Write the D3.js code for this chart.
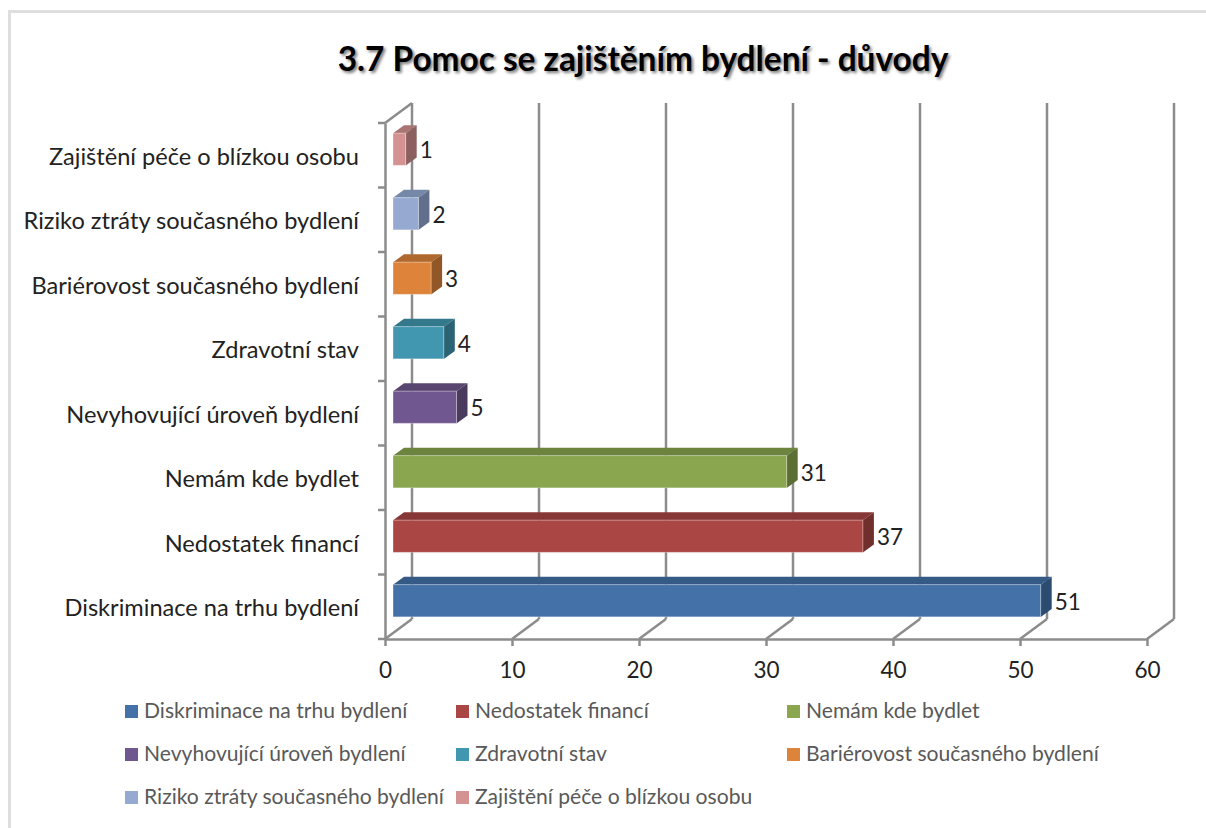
<!DOCTYPE html>
<html>
<head>
<meta charset="utf-8">
<script src="https://cdn.jsdelivr.net/npm/d3@7"></script>
<style>
  html, body { margin: 0; padding: 0; background: #fff; }
  text { font-family: Lato, "Open Sans", sans-serif; }
</style>
</head>
<body>
<svg id="chart" width="1206" height="828"></svg>
<script>
const chartTitle = "3.7 Pomoc se zajištěním bydlení - důvody";
const categories = [
  "Diskriminace na trhu bydlení",
  "Nedostatek financí",
  "Nemám kde bydlet",
  "Nevyhovující úroveň bydlení",
  "Zdravotní stav",
  "Bariérovost současného bydlení",
  "Riziko ztráty současného bydlení",
  "Zajištění péče o blízkou osobu"
];
const values = [51, 37, 31, 5, 4, 3, 2, 1];
const xTicks = [0, 10, 20, 30, 40, 50, 60];
const frontColors = ["#4472a8", "#aa4644", "#8aa64f", "#71578f", "#4097af", "#dd843a", "#95a9d1", "#d59292"];
const topColors = ["#355a85", "#873735", "#6d843e", "#5a4571", "#33788b", "#af692e", "#7688a8", "#a97474"];
const sideColors = ["#2c4b70", "#702e2c", "#5b6e34", "#4a3a5e", "#2a6374", "#925726", "#616f8c", "#8d6060"];

const svg = d3.select("#chart");

const margin = { top: 123, bottom: 189, right: 59, left: 385 };
const width = 1206, height = 828;
const depth = { x: 27, y: 20 };      // floor depth of the 3d box
const barOffset = { x: 8, y: 6 };    // bars stand a bit behind the front plane
const barDepth = { x: 11, y: 8 };

const x = d3.scaleLinear().domain([0, 60]).range([margin.left, width - margin.right]);
const y = d3.scaleBand().domain(categories).range([height - margin.bottom, margin.top]);
const bottom = height - margin.bottom;
const axisColor = "#8c8c8c";

// Outer frame, only top and left are in the picture
svg.append("path")
  .attr("d", "M1206,11.5H9.5V828")
  .attr("fill", "none")
  .attr("stroke", "#dedede")
  .attr("stroke-width", 3);

// Title, with its soft shadow
svg.append("text")
  .attr("x", 643).attr("y", 71)
  .attr("text-anchor", "middle")
  .attr("font-size", 33.4).attr("font-weight", 700)
  .attr("fill", "#777")
  .attr("transform", "translate(2,2)")
  .style("filter", "blur(1.5px)")
  .text(chartTitle);
svg.append("text")
  .attr("x", 643).attr("y", 71)
  .attr("text-anchor", "middle")
  .attr("font-size", 33.4).attr("font-weight", 700)
  .attr("fill", "#000")
  .text(chartTitle);

// Back wall grid lines and floor lines
const grid = svg.append("g").attr("stroke", axisColor).attr("stroke-width", 2.5).attr("fill", "none");
grid.selectAll(".wall")
  .data(xTicks)
  .join("line")
  .attr("class", "wall")
  .attr("x1", d => x(d) + depth.x).attr("x2", d => x(d) + depth.x)
  .attr("y1", margin.top - depth.y).attr("y2", bottom - depth.y);
grid.selectAll(".floor")
  .data(xTicks)
  .join("line")
  .attr("class", "floor")
  .attr("x1", d => x(d)).attr("x2", d => x(d) + depth.x)
  .attr("y1", bottom).attr("y2", bottom - depth.y);
grid.append("line")
  .attr("x1", x(0)).attr("x2", x(0) + depth.x)
  .attr("y1", margin.top).attr("y2", margin.top - depth.y);

// Axes on the front plane
const xAxis = svg.append("g")
  .attr("transform", `translate(0, ${bottom})`)
  .call(d3.axisBottom(x).tickValues(xTicks).tickSize(7).tickPadding(16).tickSizeOuter(0));
xAxis.select(".domain").attr("stroke", axisColor).attr("stroke-width", 2.5);
xAxis.selectAll("line").attr("stroke", axisColor).attr("stroke-width", 2.5);
xAxis.selectAll("text").attr("font-size", 22.5).attr("fill", "#222");

const yAxis = svg.append("g")
  .attr("transform", `translate(${margin.left}, 0)`)
  .call(d3.axisLeft(y).tickSize(0).tickPadding(26));
yAxis.select(".domain").attr("stroke", axisColor).attr("stroke-width", 2.5);
yAxis.selectAll("text").attr("font-size", 23.6).attr("fill", "#222").attr("dy", "0.4em");

// Category tick marks sit between the bands
svg.selectAll(".ytick")
  .data(d3.range(categories.length + 1))
  .join("line")
  .attr("class", "ytick")
  .attr("x1", x(0) - 7).attr("x2", x(0))
  .attr("y1", i => bottom - i * y.step()).attr("y2", i => bottom - i * y.step())
  .attr("stroke", axisColor).attr("stroke-width", 2.5);

// 3d bars
const bars = svg.selectAll(".bar")
  .data(categories)
  .join("g")
  .attr("class", "bar");

const barH = y.step() / 2;
const barTop = d => y(d) + (y.step() - barH) / 2 - barOffset.y;
const barX0 = x(0) + barOffset.x;
const barX1 = (d, i) => x(values[i]) + barOffset.x;

bars.append("path")
  .attr("fill", (d, i) => topColors[i])
  .attr("d", (d, i) => {
    const t = barTop(d), r = barX1(d, i);
    return `M${barX0},${t}L${barX0 + barDepth.x},${t - barDepth.y}L${r + barDepth.x},${t - barDepth.y}L${r},${t}Z`;
  });
bars.append("path")
  .attr("fill", (d, i) => sideColors[i])
  .attr("d", (d, i) => {
    const t = barTop(d), r = barX1(d, i);
    return `M${r},${t}L${r + barDepth.x},${t - barDepth.y}L${r + barDepth.x},${t - barDepth.y + barH}L${r},${t + barH}Z`;
  });
bars.append("rect")
  .attr("x", barX0)
  .attr("y", d => barTop(d))
  .attr("width", (d, i) => barX1(d, i) - barX0)
  .attr("height", barH)
  .attr("fill", (d, i) => frontColors[i])
  .attr("stroke", "#fff")
  .attr("stroke-opacity", 0.35);

// Value labels
bars.append("text")
  .attr("x", (d, i) => barX1(d, i) + barDepth.x + 3)
  .attr("y", d => barTop(d) + barH / 2 + 2)
  .attr("dy", "0.32em")
  .attr("font-size", 22.5)
  .attr("fill", "#222")
  .text((d, i) => values[i]);

// Legend, three columns
const legend = svg.selectAll(".legend")
  .data(categories)
  .join("g")
  .attr("class", "legend")
  .attr("transform", (d, i) => `translate(${125 + (i % 3) * 331}, ${711 + Math.floor(i / 3) * 43})`);
legend.append("rect")
  .attr("y", -6).attr("width", 13).attr("height", 13)
  .attr("fill", (d, i) => frontColors[i]);
legend.append("text")
  .attr("x", 19).attr("dy", "0.35em")
  .attr("font-size", 21.1)
  .attr("fill", "#595959")
  .text(d => d);
</script>
</body>
</html>
